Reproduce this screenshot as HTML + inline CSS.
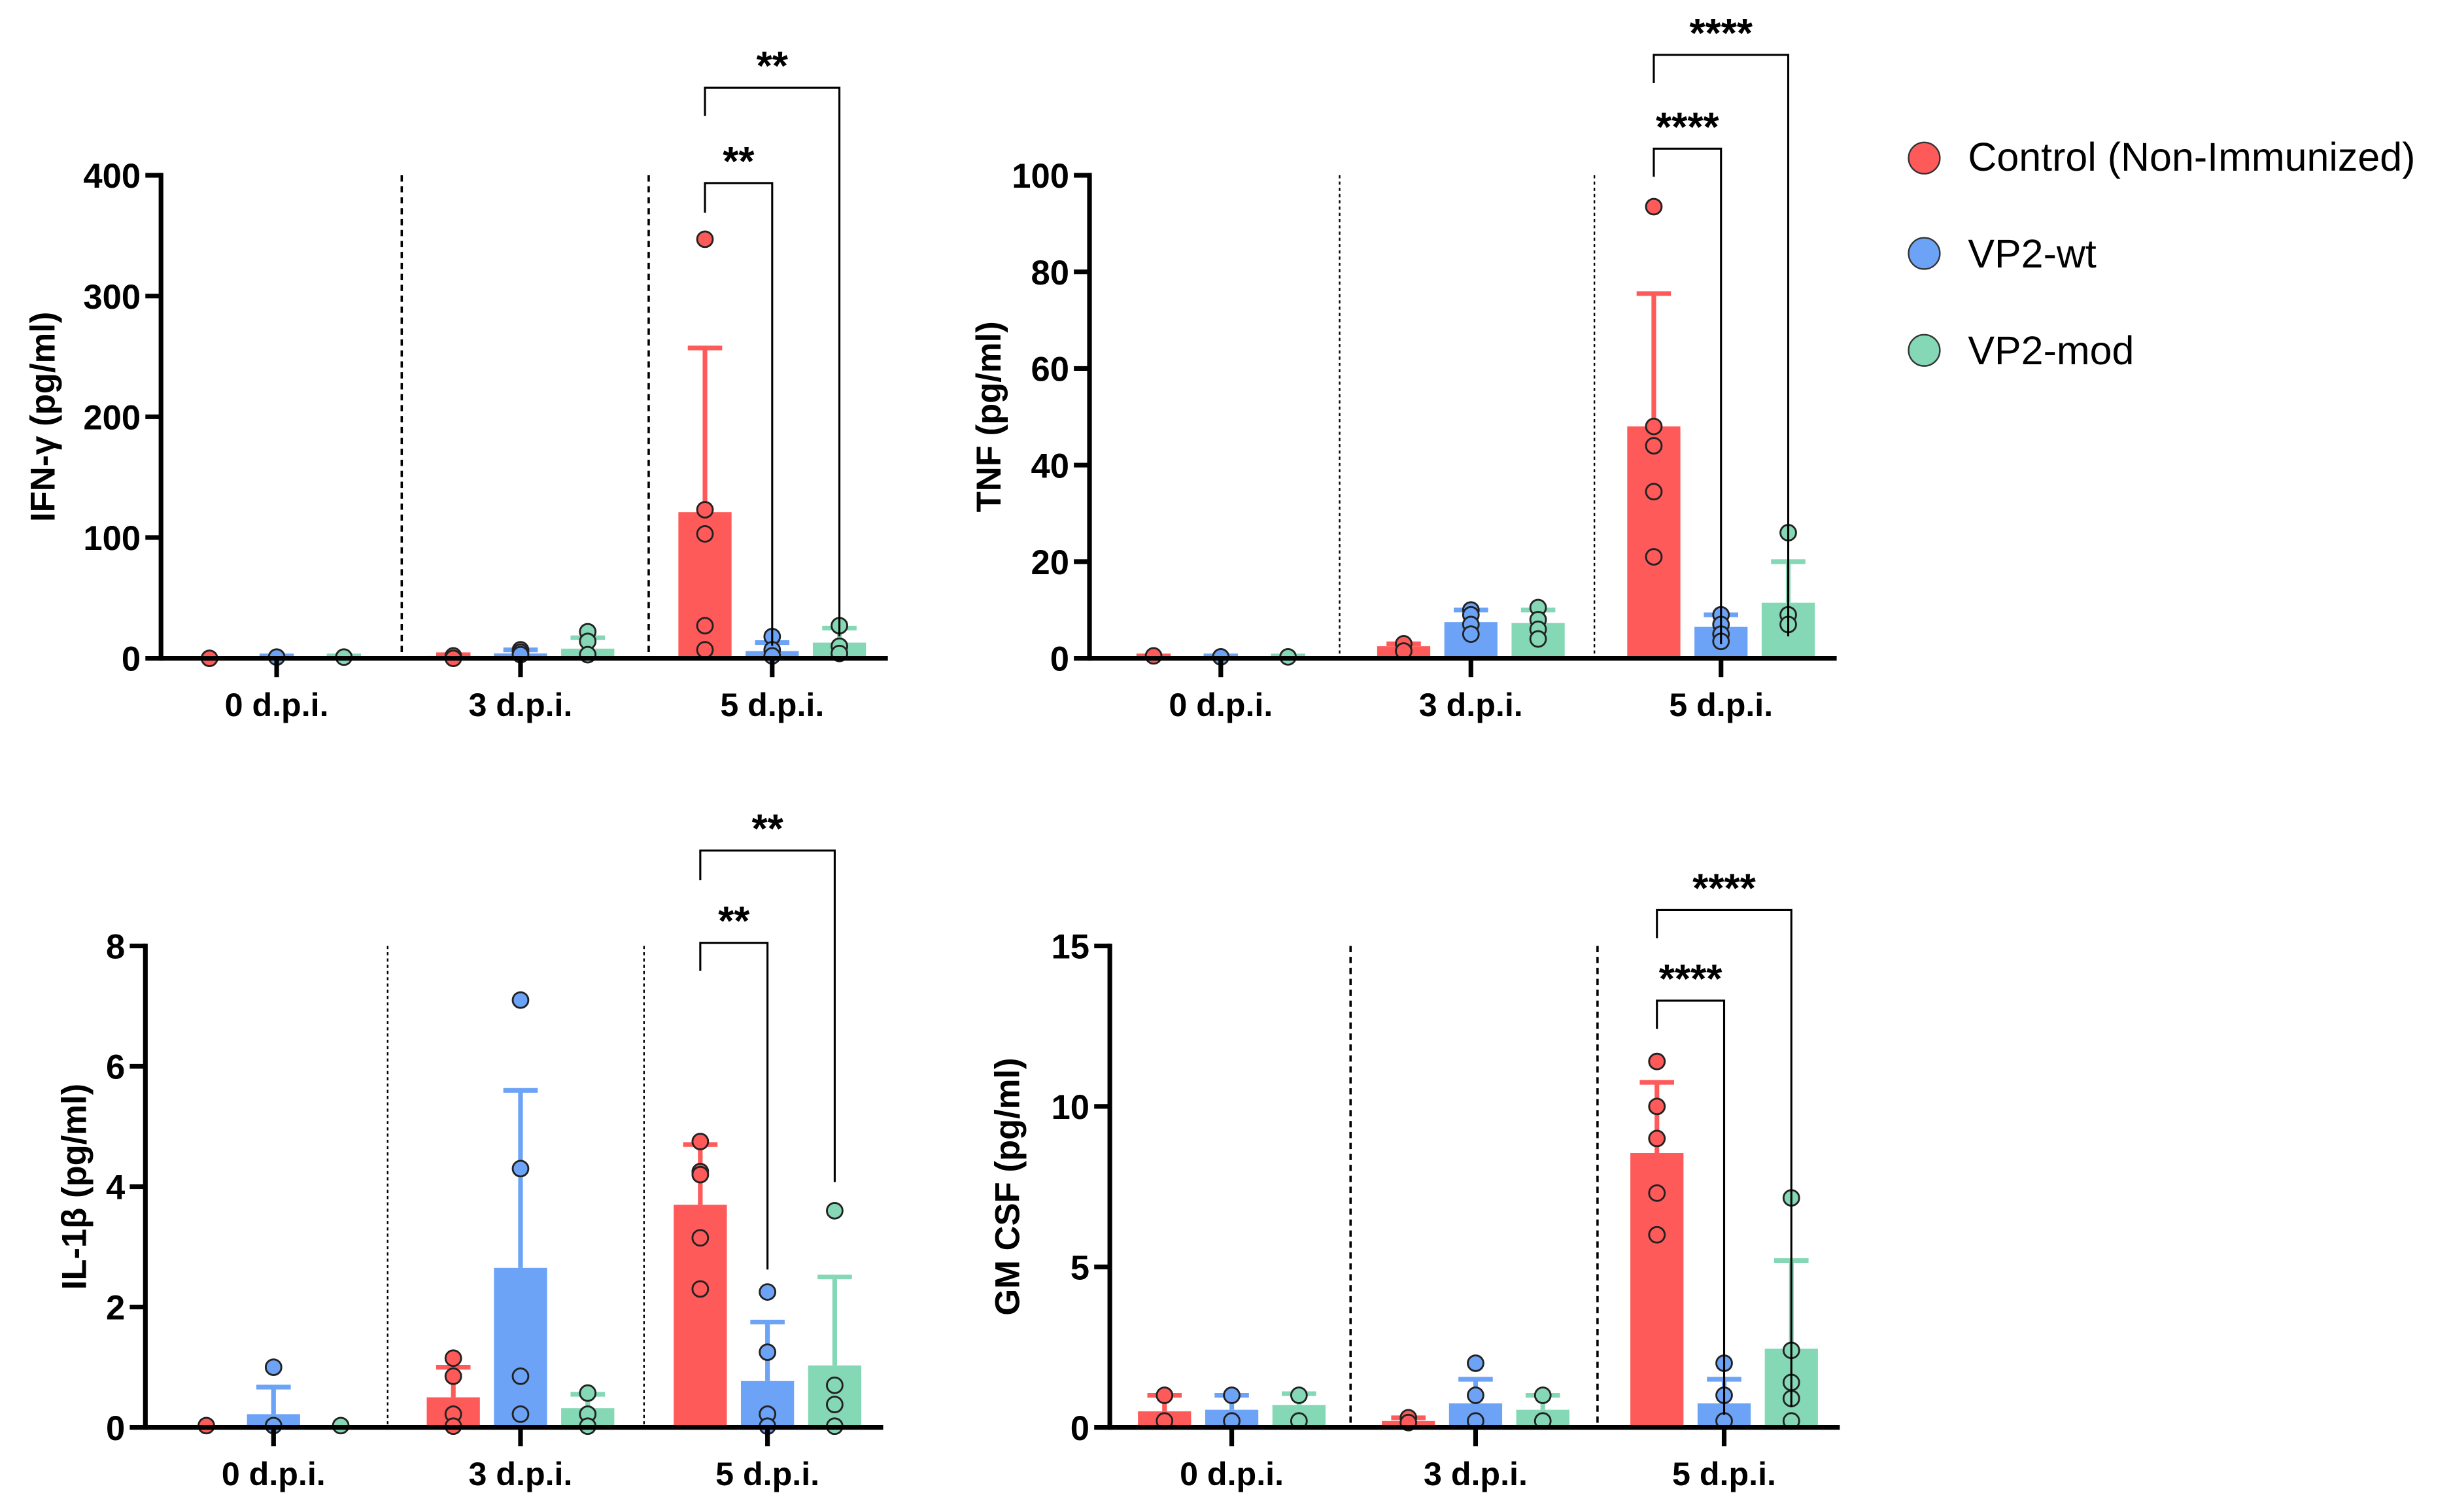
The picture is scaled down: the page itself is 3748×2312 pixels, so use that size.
<!DOCTYPE html>
<html><head><meta charset="utf-8">
<style>
html,body{margin:0;padding:0;background:#fff;}
svg{display:block;}
text{font-family:"Liberation Sans",sans-serif;}
</style></head>
<body>
<svg id="chart" width="3748" height="2312" viewBox="0 0 1568 967" xmlns="http://www.w3.org/2000/svg">
<rect width="1568" height="967" fill="#fff"/>
<g>
 <g><circle cx="1231" cy="101" r="10" fill="#FF5A5A" stroke="#333" stroke-width="1"/><text x="1259" y="109" font-size="25.5">Control (Non-Immunized)</text></g>
 <g><circle cx="1231" cy="162" r="10" fill="#6CA3F7" stroke="#333" stroke-width="1"/><text x="1259" y="171" font-size="25.5">VP2-wt</text></g>
 <g><circle cx="1231" cy="224" r="10" fill="#85D8B5" stroke="#333" stroke-width="1"/><text x="1259" y="233" font-size="25.5">VP2-mod</text></g>
</g>
</svg>
<script>
const categories = ["0 d.p.i.","3 d.p.i.","5 d.p.i."];
const seriesNames = ["Control (Non-Immunized)","VP2-wt","VP2-mod"];
// IFN-gamma
const ifnMeans = [[0,1,1],[2,4,8],[121,6,13]];
const ifnErr = [[0,2,2],[3,7,17],[257,13,25]];
const ifnPts = [[[0],[1],[1]],[[2,0],[7,5,3],[22,14,3]],[[347,123,103,27,7],[18,7,2],[27,10,4]]];
const ifnTicks = [0,100,200,300,400];
// TNF
const tnfMeans = [[0.3,0.3,0.3],[2.5,7.5,7.3],[48,6.5,11.5]];
const tnfErr = [[0.5,0.5,0.5],[3,10,10],[75.5,9,20]];
const tnfPts = [[[0.5],[0.3],[0.3]],[[3,1.5],[10,9,7,5],[10.5,8,6,4]],[[93.5,48,44,34.5,21],[9,7,5,3.5],[26,9,7]]];
const tnfTicks = [0,20,40,60,80,100];
// IL-1b
const ilMeans = [[0.02,0.22,0.02],[0.5,2.65,0.32],[3.7,0.77,1.03]];
const ilErr = [[0.02,0.67,0.02],[1.0,5.6,0.55],[4.7,1.75,2.5]];
const ilPts = [[[0.03],[1.0,0.03],[0.03]],[[1.15,0.85,0.22,0.02],[7.1,4.3,0.85,0.22],[0.57,0.22,0.02]],[[4.75,4.25,4.2,3.15,2.3],[2.25,1.25,0.22,0.02],[3.6,0.7,0.38,0.02]]];
const ilTicks = [0,2,4,6,8];
// GM-CSF
const gmMeans = [[0.5,0.55,0.7],[0.2,0.75,0.55],[8.55,0.75,2.45]];
const gmErr = [[1.0,1.0,1.05],[0.3,1.5,1.0],[10.75,1.5,5.2]];
const gmPts = [[[1,0.2],[1,0.2],[1,0.2]],[[0.3,0.15],[2,1,0.2],[1,0.2]],[[11.4,10,9,7.3,6.0],[2,1,0.2],[7.15,2.4,1.4,0.9,0.2]]];
const gmTicks = [0,5,10,15];

const colors = ["#FF5A5A","#6CA3F7","#85D8B5"];
const NS = "http://www.w3.org/2000/svg";
const svg = document.getElementById("chart");
function mk(tag, attrs, parent){const e=document.createElementNS(NS,tag);for(const k in attrs)e.setAttribute(k,attrs[k]);parent.appendChild(e);return e;}

function panel(cfg){
  const g = mk("g",{},svg);
  
  
  const ymax = cfg.ticks[cfg.ticks.length-1];
  const y = v => cfg.y0 - (v/ymax)*(cfg.y0-cfg.yTop);
  const gx = (ci, si) => cfg.centers[ci] + (si-1)*cfg.off;
  cfg.seps.forEach(sx=>{
    const l = mk("line",{x1:sx,x2:sx,y1:cfg.yTop,y2:cfg.y0,stroke:"#000","stroke-width":cfg.sepW,"stroke-dasharray":cfg.sepDash},g);
    
    
  });
  for(let ci=0;ci<3;ci++)for(let si=0;si<3;si++){
    const cx=gx(ci,si), m=cfg.means[ci][si], e=cfg.err[ci][si];
    const b = mk("rect",{x:cx-17,y:y(m),width:34,height:Math.max(0,cfg.y0-y(m)),fill:colors[si]},g);
    
    
    if(e>m){
      const eb = mk("path",{d:`M${cx},${y(m)}V${y(e)}M${cx-11},${y(e)}H${cx+11}`,stroke:colors[si],"stroke-width":3,fill:"none"},g);
      
      
    }
    cfg.pts[ci][si].forEach(v=>{
      const p = mk("circle",{cx:cx,cy:y(v),r:5,fill:colors[si],stroke:"#222","stroke-width":1.2},g);
      
      
    });
  }
  const ya = mk("line",{x1:cfg.x0,x2:cfg.x0,y1:cfg.yTop-1.5,y2:cfg.y0+1.5,stroke:"#000","stroke-width":3},g);
  
  
  const xa = mk("line",{x1:cfg.x0,x2:cfg.xEnd,y1:cfg.y0,y2:cfg.y0,stroke:"#000","stroke-width":3},g);
  
  
  cfg.ticks.forEach(t=>{
    mk("line",{x1:cfg.x0-10,x2:cfg.x0,y1:y(t),y2:y(t),stroke:"#000","stroke-width":3},g);
    const tl = mk("text",{x:cfg.x0-13,y:y(t)+8,"font-size":22,"font-weight":"bold","text-anchor":"end"},g);
    tl.textContent=t;
    
    
  });
  categories.forEach((c,ci)=>{
    mk("line",{x1:cfg.centers[ci],x2:cfg.centers[ci],y1:cfg.y0,y2:cfg.y0+12,stroke:"#000","stroke-width":3},g);
    const cl = mk("text",{x:cfg.centers[ci],y:cfg.y0+37,"font-size":21,"font-weight":"bold","text-anchor":"middle"},g);
    cl.textContent=c;
    
    
  });
  const yt = mk("text",{x:0,y:0,"font-size":22,"font-weight":"bold","text-anchor":"middle",transform:`translate(${cfg.titleX},${(cfg.yTop+cfg.y0)/2}) rotate(-90)`},g);
  yt.textContent=cfg.title;
  
  
  cfg.brackets.forEach(b=>{
    const x1=gx(2,0), x2=gx(2,b.to);
    const p = mk("path",{d:`M${x1},${b.legL}V${b.top}H${x2}V${b.legR}`,stroke:"#000","stroke-width":1.3,fill:"none"},g);
    
    
    const t = mk("text",{x:(x1+x2)/2,y:b.top-5,"font-size":26,"font-weight":"bold","text-anchor":"middle"},g);
    t.textContent=b.label;
    
    
  });
}

panel({name:"ifn-gamma-panel",x0:103,xEnd:568,yTop:112,y0:421,centers:[177,333,494],off:43,seps:[257,415],sepW:1.5,sepDash:"4,3",
  means:ifnMeans,err:ifnErr,pts:ifnPts,ticks:ifnTicks,title:"IFN-γ (pg/ml)",titleX:35,
  brackets:[{to:1,top:117,legL:136,legR:413,label:"**"},{to:2,top:56,legL:74,legR:407,label:"**"}]});
panel({name:"tnf-panel",x0:697,xEnd:1175,yTop:112,y0:421,centers:[781,941,1101],off:43,seps:[857,1020],sepW:1,sepDash:"2,2",
  means:tnfMeans,err:tnfErr,pts:tnfPts,ticks:tnfTicks,title:"TNF (pg/ml)",titleX:640,
  brackets:[{to:1,top:95,legL:113,legR:412,label:"****"},{to:2,top:35,legL:53,legR:407,label:"****"}]});
panel({name:"il-1b-panel",x0:93,xEnd:565,yTop:605,y0:913,centers:[175,333,491],off:43,seps:[248,412],sepW:1,sepDash:"2,2",
  means:ilMeans,err:ilErr,pts:ilPts,ticks:ilTicks,title:"IL-1β (pg/ml)",titleX:55,
  brackets:[{to:1,top:603,legL:621,legR:812,label:"**"},{to:2,top:544,legL:563,legR:756,label:"**"}]});
panel({name:"gm-csf-panel",x0:710,xEnd:1177,yTop:605,y0:913,centers:[788,944,1103],off:43,seps:[864,1022],sepW:1.5,sepDash:"4,3",
  means:gmMeans,err:gmErr,pts:gmPts,ticks:gmTicks,title:"GM CSF (pg/ml)",titleX:652,
  brackets:[{to:1,top:640,legL:658,legR:905,label:"****"},{to:2,top:582,legL:600,legR:900,label:"****"}]});
</script>
</body></html>
